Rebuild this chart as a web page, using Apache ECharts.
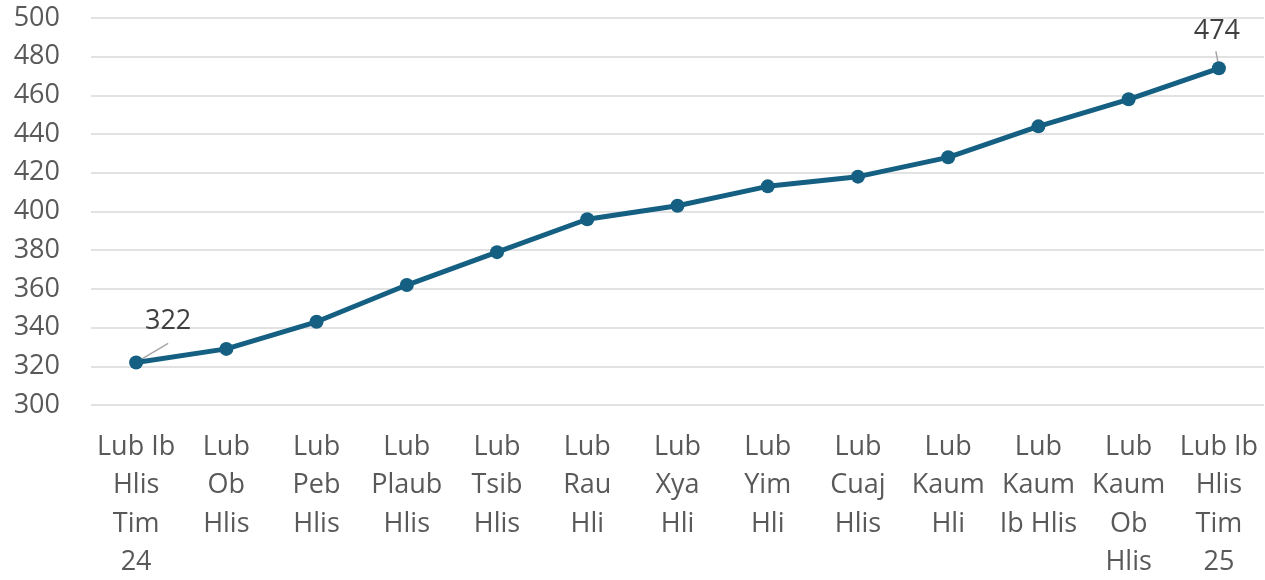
<!DOCTYPE html>
<html>
<head>
<meta charset="utf-8">
<script src="https://cdn.jsdelivr.net/npm/echarts@6/dist/echarts.min.js"></script>
<style>
  html, body { margin: 0; padding: 0; background: #fff; }
</style>
</head>
<body>
<div id="main" style="width: 1265px; height: 580px"></div>
<script>
// month labels (wrapped as in the original)
const categories = [
  'Lub Ib\nHlis\nTim\n24', 'Lub\nOb\nHlis', 'Lub\nPeb\nHlis', 'Lub\nPlaub\nHlis',
  'Lub\nTsib\nHlis', 'Lub\nRau\nHli', 'Lub\nXya\nHli', 'Lub\nYim\nHli',
  'Lub\nCuaj\nHlis', 'Lub\nKaum\nHli', 'Lub\nKaum\nIb Hlis', 'Lub\nKaum\nOb\nHlis',
  'Lub Ib\nHlis\nTim\n25'
]
const values = [322, 329, 343, 362, 379, 396, 403, 413, 418, 428, 444, 458, 474]
// only first and last points carry a label
const labelledIdx = [0, 12]
// callout leader lines in data units (category index, value), '-' breaks the line
const leaderLines = [[0, 322], [0.355, 331.8], '-', [11.99, 477.1], [11.967, 482.8]]

const fontFamily = '"Open Sans", sans-serif'

var myChart = echarts.init(document.getElementById('main'))
var option = {
  animation: false,
  grid: { left: 91, right: 1, top: 18, bottom: 175, outerBoundsMode: 'none', containLabel: false },
  xAxis: [
    {
      type: 'category',
      data: categories,
      boundaryGap: true,
      axisLine: { show: false },
      axisTick: { show: false },
      splitLine: { show: false },
      axisLabel: {
        interval: 0,
        margin: 23,
        color: '#595959',
        fontSize: 27,
        lineHeight: 38.5,
        fontFamily: fontFamily
      }
    },
    {
      // hidden helper axis aligned with category centres, for the leader lines
      type: 'value',
      min: -0.5,
      max: 12.5,
      show: false
    }
  ],
  yAxis: {
    type: 'value',
    min: 300,
    max: 500,
    interval: 20,
    axisLine: { show: false },
    axisTick: { show: false },
    axisLabel: { color: '#595959', fontSize: 27, margin: 31, fontFamily: fontFamily },
    splitLine: { lineStyle: { color: '#d9d9d9', width: 1.5 } }
  },
  series: [
    {
      type: 'line',
      xAxisIndex: 1,
      data: leaderLines,
      connectNulls: false,
      symbol: 'none',
      z: 1,
      silent: true,
      lineStyle: { color: '#a6a6a6', width: 1.5 }
    },
    {
      type: 'line',
      z: 2,
      data: values.map((v, i) => ({
        value: v,
        label: { show: labelledIdx.includes(i) }
      })),
      symbol: 'circle',
      symbolSize: 14,
      lineStyle: { color: '#156082', width: 5 },
      itemStyle: { color: '#156082' },
      label: {
        position: 'top',
        color: '#404040',
        fontSize: 27,
        fontFamily: fontFamily
      },
      labelLayout: function(p) {
        if (p.dataIndex === 0) return { dx: 32, dy: -16 }
        if (p.dataIndex === 12) return { dx: -2, dy: -11 }
        return {}
      }
    }
  ]
}
myChart.setOption(option)
</script>
</body>
</html>
